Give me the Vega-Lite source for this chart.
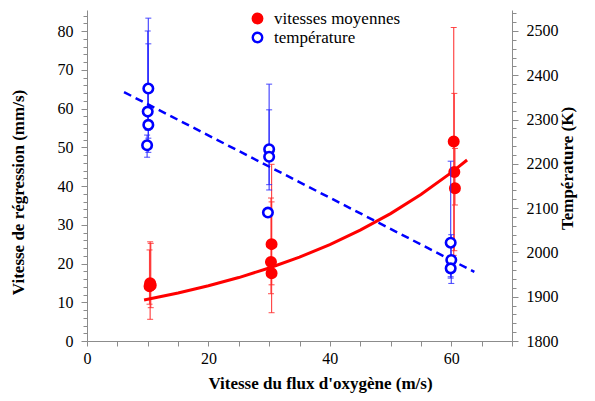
{
  "$schema": "https://vega.github.io/schema/vega-lite/v6.json",
  "width": 425,
  "height": 331,
  "autosize": "none",
  "padding": {"left": 87, "top": 10, "right": 83, "bottom": 60},
  "background": "white",
  "config": {
    "view": {"stroke": null},
    "font": "Liberation Serif",
    "axis": {
      "domainColor": "#8c8c8c",
      "tickColor": "#8c8c8c",
      "domainWidth": 1,
      "tickWidth": 1,
      "grid": false,
      "labelOverlap": false,
      "labelFont": "Liberation Serif",
      "labelFontSize": 16,
      "labelColor": "black",
      "titleFont": "Liberation Serif",
      "titleFontSize": 17,
      "titleFontWeight": "bold",
      "titleColor": "black"
    },
    "axisX": {
      "title": "Vitesse du flux d'oxygène (m/s)",
      "values": [0, 4, 8, 12, 16, 20, 24, 28, 32, 36, 40, 44, 48, 52, 56, 60, 64, 68],
      "labelExpr": "datum.value % 20 === 0 ? datum.label : ''",
      "labelOverlap": false,
      "labelPadding": 4,
      "tickSize": 5,
      "titleX": 233,
      "titleY": 42,
      "titleAlign": "center",
      "titleBaseline": "middle",
      "labelFlush": false
    }
  },
  "datasets": {
    "vit": [
      {"x": 10.4, "y": 14.9, "lo": 5.6, "hi": 25.6, "s": "vitesses moyennes"},
      {"x": 10.5, "y": 14.4, "lo": 8.6, "hi": 25.2, "s": "vitesses moyennes"},
      {"x": 10.3, "y": 14.1, "lo": 9.5, "hi": 23.5, "s": "vitesses moyennes"},
      {"x": 30.4, "y": 25.0, "lo": 7.3, "hi": 45.6, "s": "vitesses moyennes"},
      {"x": 30.3, "y": 20.4, "lo": 12.2, "hi": 36.9, "s": "vitesses moyennes"},
      {"x": 30.4, "y": 17.5, "lo": 14.5, "hi": 35.9, "s": "vitesses moyennes"},
      {"x": 60.4, "y": 51.5, "lo": 22.1, "hi": 80.9, "s": "vitesses moyennes"},
      {"x": 60.5, "y": 43.6, "lo": 23.3, "hi": 63.9, "s": "vitesses moyennes"},
      {"x": 60.6, "y": 39.4, "lo": 35.1, "hi": 49.7, "s": "vitesses moyennes"}
    ],
    "temp": [
      {"x": 10.1, "y": 2370, "lo": 2226, "hi": 2529, "s": "température"},
      {"x": 10.0, "y": 2318, "lo": 2276, "hi": 2500, "s": "température"},
      {"x": 10.1, "y": 2288, "lo": 2258, "hi": 2471, "s": "température"},
      {"x": 9.9, "y": 2242, "lo": 2215, "hi": 2265, "s": "température"},
      {"x": 30.0, "y": 2233, "lo": 2141, "hi": 2322, "s": "température"},
      {"x": 30.0, "y": 2216, "lo": 2153, "hi": 2380, "s": "température"},
      {"x": 29.8, "y": 2090, "lo": null, "hi": null, "s": "température"},
      {"x": 59.9, "y": 2022, "lo": 1942, "hi": 2206, "s": "température"},
      {"x": 60.0, "y": 1983, "lo": 1930, "hi": 2040, "s": "température"},
      {"x": 59.9, "y": 1964, "lo": 1945, "hi": 1985, "s": "température"}
    ],
    "fitv": [
      {"x": 9.4, "y": 10.6},
      {"x": 15, "y": 12.39},
      {"x": 20, "y": 14.24},
      {"x": 25, "y": 16.37},
      {"x": 30, "y": 18.83},
      {"x": 35, "y": 21.64},
      {"x": 40, "y": 24.88},
      {"x": 45, "y": 28.6},
      {"x": 50, "y": 32.88},
      {"x": 55, "y": 37.79},
      {"x": 60, "y": 43.45},
      {"x": 62.6, "y": 46.7}
    ],
    "fitt": [
      {"x": 6.1, "y": 2362},
      {"x": 63.8, "y": 1956}
    ]
  },
  "layer": [
    {
      "layer": [
        {
          "data": {"name": "vit"},
          "transform": [{"filter": "isValid(datum.lo)"}],
          "mark": {"type": "rule", "color": "#ff2a2a", "strokeWidth": 1.2, "opacity": 0.85},
          "encoding": {
            "x": {"field": "x", "type": "quantitative", "title": "Vitesse du flux d'oxygène (m/s)", "scale": {"domain": [0, 70], "nice": false}},
            "y": {"field": "lo", "type": "quantitative", "scale": {"domain": [0, 85.42], "nice": false, "zero": false}, "axis": {"title": "Vitesse de régression (mm/s)", "orient": "left", "values": [0, 2, 4, 6, 8, 10, 12, 14, 16, 18, 20, 22, 24, 26, 28, 30, 32, 34, 36, 38, 40, 42, 44, 46, 48, 50, 52, 54, 56, 58, 60, 62, 64, 66, 68, 70, 72, 74, 76, 78, 80, 82, 84], "labelExpr": "datum.value % 10 === 0 ? datum.label : ''", "labelOverlap": false, "tickSize": {"condition": {"test": "datum.value % 10 === 0", "value": 6}, "value": 4}, "labelPadding": 8, "titleX": -69, "titleY": 182, "titleAngle": 270, "titleAlign": "center", "titleBaseline": "middle", "labelFlush": false}},
            "y2": {"field": "hi"}
          }
        },
        {
          "data": {"name": "vit"},
          "transform": [{"filter": "isValid(datum.lo)"}, {"fold": ["lo", "hi"], "as": ["k", "v"]}],
          "mark": {"type": "tick", "orient": "horizontal", "color": "#ff2a2a", "size": 6, "thickness": 1, "opacity": 0.85},
          "encoding": {
            "x": {"field": "x", "type": "quantitative", "title": "Vitesse du flux d'oxygène (m/s)", "scale": {"domain": [0, 70], "nice": false}},
            "y": {"field": "v", "type": "quantitative", "scale": {"domain": [0, 85.42], "nice": false, "zero": false}, "axis": {"title": "Vitesse de régression (mm/s)", "orient": "left", "values": [0, 2, 4, 6, 8, 10, 12, 14, 16, 18, 20, 22, 24, 26, 28, 30, 32, 34, 36, 38, 40, 42, 44, 46, 48, 50, 52, 54, 56, 58, 60, 62, 64, 66, 68, 70, 72, 74, 76, 78, 80, 82, 84], "labelExpr": "datum.value % 10 === 0 ? datum.label : ''", "labelOverlap": false, "tickSize": {"condition": {"test": "datum.value % 10 === 0", "value": 6}, "value": 4}, "labelPadding": 8, "titleX": -69, "titleY": 182, "titleAngle": 270, "titleAlign": "center", "titleBaseline": "middle", "labelFlush": false}}
          }
        },
        {
          "data": {"name": "fitv"},
          "mark": {"type": "line", "color": "#ff0000", "strokeWidth": 3},
          "encoding": {
            "x": {"field": "x", "type": "quantitative", "title": "Vitesse du flux d'oxygène (m/s)", "scale": {"domain": [0, 70], "nice": false}},
            "y": {"field": "y", "type": "quantitative", "scale": {"domain": [0, 85.42], "nice": false, "zero": false}, "axis": {"title": "Vitesse de régression (mm/s)", "orient": "left", "values": [0, 2, 4, 6, 8, 10, 12, 14, 16, 18, 20, 22, 24, 26, 28, 30, 32, 34, 36, 38, 40, 42, 44, 46, 48, 50, 52, 54, 56, 58, 60, 62, 64, 66, 68, 70, 72, 74, 76, 78, 80, 82, 84], "labelExpr": "datum.value % 10 === 0 ? datum.label : ''", "labelOverlap": false, "tickSize": {"condition": {"test": "datum.value % 10 === 0", "value": 6}, "value": 4}, "labelPadding": 8, "titleX": -69, "titleY": 182, "titleAngle": 270, "titleAlign": "center", "titleBaseline": "middle", "labelFlush": false}}
          }
        },
        {
          "data": {"name": "vit"},
          "mark": {"type": "point", "shape": "circle", "size": 100, "strokeWidth": 2, "opacity": 1},
          "encoding": {
            "x": {"field": "x", "type": "quantitative", "title": "Vitesse du flux d'oxygène (m/s)", "scale": {"domain": [0, 70], "nice": false}},
            "y": {"field": "y", "type": "quantitative", "scale": {"domain": [0, 85.42], "nice": false, "zero": false}, "axis": {"title": "Vitesse de régression (mm/s)", "orient": "left", "values": [0, 2, 4, 6, 8, 10, 12, 14, 16, 18, 20, 22, 24, 26, 28, 30, 32, 34, 36, 38, 40, 42, 44, 46, 48, 50, 52, 54, 56, 58, 60, 62, 64, 66, 68, 70, 72, 74, 76, 78, 80, 82, 84], "labelExpr": "datum.value % 10 === 0 ? datum.label : ''", "labelOverlap": false, "tickSize": {"condition": {"test": "datum.value % 10 === 0", "value": 6}, "value": 4}, "labelPadding": 8, "titleX": -69, "titleY": 182, "titleAngle": 270, "titleAlign": "center", "titleBaseline": "middle", "labelFlush": false}},
            "fill": {"field": "s", "type": "nominal", "scale": {"domain": ["vitesses moyennes", "température"], "range": ["#ff0000", "#ffffff"]}, "legend": {"title": null, "orient": "none", "legendX": 162, "legendY": 0, "padding": 0, "labelFont": "Liberation Serif", "labelFontSize": 17, "labelColor": "black", "symbolSize": 90, "symbolStrokeWidth": 2.4, "rowPadding": -2, "labelOffset": 8}},
            "stroke": {"field": "s", "type": "nominal", "scale": {"domain": ["vitesses moyennes", "température"], "range": ["#ff0000", "#0000ff"]}, "legend": {"title": null, "orient": "none", "legendX": 162, "legendY": 0, "padding": 0, "labelFont": "Liberation Serif", "labelFontSize": 17, "labelColor": "black", "symbolSize": 90, "symbolStrokeWidth": 2.4, "rowPadding": -2, "labelOffset": 8}}
          }
        }
      ]
    },
    {
      "layer": [
        {
          "data": {"name": "temp"},
          "transform": [{"filter": "isValid(datum.lo)"}],
          "mark": {"type": "rule", "color": "#2a2aff", "strokeWidth": 1.2, "opacity": 0.85},
          "encoding": {
            "x": {"field": "x", "type": "quantitative", "title": "Vitesse du flux d'oxygène (m/s)", "scale": {"domain": [0, 70], "nice": false}},
            "y": {"field": "lo", "type": "quantitative", "scale": {"domain": [1800, 2547.4], "nice": false, "zero": false}, "axis": {"title": "Température (K)", "orient": "right", "titleAngle": 270, "titleX": 55, "titleY": 158, "titleAlign": "center", "titleBaseline": "middle", "values": [1800, 1820, 1840, 1860, 1880, 1900, 1920, 1940, 1960, 1980, 2000, 2020, 2040, 2060, 2080, 2100, 2120, 2140, 2160, 2180, 2200, 2220, 2240, 2260, 2280, 2300, 2320, 2340, 2360, 2380, 2400, 2420, 2440, 2460, 2480, 2500, 2520, 2540], "labelExpr": "datum.value % 100 === 0 ? datum.label : ''", "labelOverlap": false, "format": "d", "tickSize": {"condition": {"test": "datum.value % 100 === 0", "value": 6}, "value": 4}, "labelPadding": 8, "labelFlush": false}},
            "y2": {"field": "hi"}
          }
        },
        {
          "data": {"name": "temp"},
          "transform": [{"filter": "isValid(datum.lo)"}, {"fold": ["lo", "hi"], "as": ["k", "v"]}],
          "mark": {"type": "tick", "orient": "horizontal", "color": "#2a2aff", "size": 6, "thickness": 1, "opacity": 0.85},
          "encoding": {
            "x": {"field": "x", "type": "quantitative", "title": "Vitesse du flux d'oxygène (m/s)", "scale": {"domain": [0, 70], "nice": false}},
            "y": {"field": "v", "type": "quantitative", "scale": {"domain": [1800, 2547.4], "nice": false, "zero": false}, "axis": {"title": "Température (K)", "orient": "right", "titleAngle": 270, "titleX": 55, "titleY": 158, "titleAlign": "center", "titleBaseline": "middle", "values": [1800, 1820, 1840, 1860, 1880, 1900, 1920, 1940, 1960, 1980, 2000, 2020, 2040, 2060, 2080, 2100, 2120, 2140, 2160, 2180, 2200, 2220, 2240, 2260, 2280, 2300, 2320, 2340, 2360, 2380, 2400, 2420, 2440, 2460, 2480, 2500, 2520, 2540], "labelExpr": "datum.value % 100 === 0 ? datum.label : ''", "labelOverlap": false, "format": "d", "tickSize": {"condition": {"test": "datum.value % 100 === 0", "value": 6}, "value": 4}, "labelPadding": 8, "labelFlush": false}}
          }
        },
        {
          "data": {"name": "fitt"},
          "mark": {"type": "line", "color": "#0000ff", "strokeWidth": 2.5, "strokeDash": [8, 5]},
          "encoding": {
            "x": {"field": "x", "type": "quantitative", "title": "Vitesse du flux d'oxygène (m/s)", "scale": {"domain": [0, 70], "nice": false}},
            "y": {"field": "y", "type": "quantitative", "scale": {"domain": [1800, 2547.4], "nice": false, "zero": false}, "axis": {"title": "Température (K)", "orient": "right", "titleAngle": 270, "titleX": 55, "titleY": 158, "titleAlign": "center", "titleBaseline": "middle", "values": [1800, 1820, 1840, 1860, 1880, 1900, 1920, 1940, 1960, 1980, 2000, 2020, 2040, 2060, 2080, 2100, 2120, 2140, 2160, 2180, 2200, 2220, 2240, 2260, 2280, 2300, 2320, 2340, 2360, 2380, 2400, 2420, 2440, 2460, 2480, 2500, 2520, 2540], "labelExpr": "datum.value % 100 === 0 ? datum.label : ''", "labelOverlap": false, "format": "d", "tickSize": {"condition": {"test": "datum.value % 100 === 0", "value": 6}, "value": 4}, "labelPadding": 8, "labelFlush": false}}
          }
        },
        {
          "data": {"name": "temp"},
          "mark": {"type": "point", "shape": "circle", "size": 90, "strokeWidth": 2.6, "opacity": 1},
          "encoding": {
            "x": {"field": "x", "type": "quantitative", "title": "Vitesse du flux d'oxygène (m/s)", "scale": {"domain": [0, 70], "nice": false}},
            "y": {"field": "y", "type": "quantitative", "scale": {"domain": [1800, 2547.4], "nice": false, "zero": false}, "axis": {"title": "Température (K)", "orient": "right", "titleAngle": 270, "titleX": 55, "titleY": 158, "titleAlign": "center", "titleBaseline": "middle", "values": [1800, 1820, 1840, 1860, 1880, 1900, 1920, 1940, 1960, 1980, 2000, 2020, 2040, 2060, 2080, 2100, 2120, 2140, 2160, 2180, 2200, 2220, 2240, 2260, 2280, 2300, 2320, 2340, 2360, 2380, 2400, 2420, 2440, 2460, 2480, 2500, 2520, 2540], "labelExpr": "datum.value % 100 === 0 ? datum.label : ''", "labelOverlap": false, "format": "d", "tickSize": {"condition": {"test": "datum.value % 100 === 0", "value": 6}, "value": 4}, "labelPadding": 8, "labelFlush": false}},
            "fill": {"field": "s", "type": "nominal"},
            "stroke": {"field": "s", "type": "nominal"}
          }
        }
      ]
    }
  ],
  "resolve": {"scale": {"y": "independent"}}
}
